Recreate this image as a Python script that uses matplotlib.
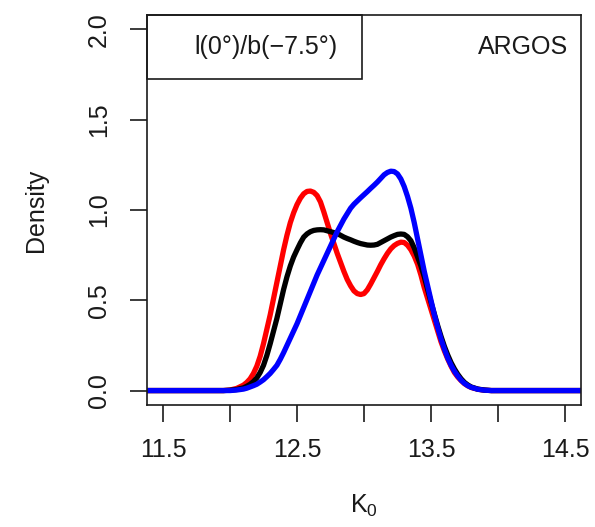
import numpy as np
import matplotlib
matplotlib.use("Agg")
import matplotlib.pyplot as plt
from matplotlib.patches import Rectangle

plt.rcParams['font.family'] = ['Liberation Sans', 'DejaVu Sans']
plt.rcParams['mathtext.fontset'] = 'custom'
plt.rcParams['mathtext.rm'] = 'Liberation Sans'
plt.rcParams['mathtext.it'] = 'Liberation Sans'

# valeurs (densité de K0), pas de 0.025 dans la zone utile
k0 = [11.38, 11.95, 12.00, 12.05,
      12.100, 12.125, 12.150, 12.175, 12.200, 12.225, 12.250, 12.275,
      12.300, 12.325, 12.350, 12.375, 12.400, 12.425, 12.450, 12.475,
      12.500, 12.525, 12.550, 12.575, 12.600, 12.625, 12.650, 12.675,
      12.700, 12.725, 12.750, 12.775, 12.800, 12.825, 12.850, 12.875,
      12.900, 12.925, 12.950, 12.975, 13.000, 13.025, 13.050, 13.075,
      13.100, 13.125, 13.150, 13.175, 13.200, 13.225, 13.250, 13.275,
      13.300, 13.325, 13.350, 13.375, 13.400, 13.425, 13.450, 13.475,
      13.500, 13.525, 13.550, 13.575, 13.600, 13.625, 13.650, 13.675,
      13.700, 13.725, 13.750, 13.775, 13.800,
      13.85, 13.90, 13.95, 14.62]

dens_rouge = [0.0, 0.0, 0.003, 0.012,
              0.03, 0.045, 0.065, 0.095, 0.135, 0.19, 0.26, 0.34,
              0.42, 0.51, 0.60, 0.69, 0.78, 0.86, 0.93, 0.985,
              1.03, 1.065, 1.09, 1.103, 1.105, 1.098, 1.08, 1.045,
              0.99, 0.93, 0.87, 0.815, 0.76, 0.71, 0.66, 0.615,
              0.58, 0.552, 0.537, 0.532, 0.537, 0.558, 0.59, 0.625,
              0.66, 0.697, 0.73, 0.76, 0.785, 0.803, 0.815, 0.822,
              0.82, 0.805, 0.78, 0.745, 0.70, 0.64, 0.57, 0.51,
              0.45, 0.39, 0.33, 0.27, 0.22, 0.175, 0.135, 0.10,
              0.075, 0.055, 0.038, 0.026, 0.017,
              0.007, 0.002, 0.0, 0.0]

dens_noir = [0.0, 0.0, 0.002, 0.006,
             0.015, 0.024, 0.035, 0.05, 0.07, 0.10, 0.14, 0.195,
             0.26, 0.33, 0.40, 0.48, 0.56, 0.63, 0.69, 0.74,
             0.78, 0.818, 0.85, 0.868, 0.88, 0.887, 0.89, 0.891,
             0.89, 0.885, 0.88, 0.875, 0.87, 0.86, 0.85, 0.842,
             0.835, 0.827, 0.82, 0.814, 0.81, 0.806, 0.805, 0.806,
             0.81, 0.82, 0.83, 0.84, 0.85, 0.858, 0.865, 0.867,
             0.865, 0.852, 0.83, 0.79, 0.74, 0.69, 0.63, 0.56,
             0.49, 0.425, 0.36, 0.30, 0.245, 0.197, 0.155, 0.12,
             0.09, 0.065, 0.045, 0.031, 0.02,
             0.008, 0.003, 0.0, 0.0]

dens_bleu = [0.0, 0.0, 0.0, 0.003,
             0.008, 0.013, 0.02, 0.027, 0.035, 0.047, 0.06, 0.077,
             0.095, 0.117, 0.14, 0.173, 0.21, 0.25, 0.29, 0.33,
             0.37, 0.415, 0.46, 0.505, 0.55, 0.595, 0.64, 0.68,
             0.72, 0.76, 0.80, 0.84, 0.88, 0.915, 0.95, 0.98,
             1.01, 1.032, 1.05, 1.068, 1.085, 1.102, 1.12, 1.137,
             1.155, 1.175, 1.195, 1.208, 1.215, 1.213, 1.20, 1.172,
             1.13, 1.075, 1.01, 0.93, 0.84, 0.75, 0.66, 0.58,
             0.50, 0.42, 0.35, 0.285, 0.23, 0.18, 0.14, 0.107,
             0.08, 0.057, 0.04, 0.027, 0.018,
             0.007, 0.002, 0.0, 0.0]

xticks = [11.5, 12.0, 12.5, 13.0, 13.5, 14.0, 14.5]
xlabels = ['11.5', '', '12.5', '', '13.5', '', '14.5']
yticks = [0.0, 0.5, 1.0, 1.5, 2.0]
ylabels = ['0.0', '0.5', '1.0', '1.5', '2.0']

encre = '#1a1a1a'

fig = plt.figure(figsize=(5.95, 5.27), dpi=100)
ax = fig.add_axes([0.247, 0.2315, 0.7295, 0.74])

for dens, coul in [(dens_rouge, 'red'), (dens_noir, 'black'), (dens_bleu, 'blue')]:
    ax.plot(k0, dens, color=coul, lw=3.8, solid_joinstyle='round',
            solid_capstyle='butt')

ax.set_xlim(11.38, 14.62)
ax.set_ylim(-0.08, 2.08)

ax.set_xticks(xticks)
ax.set_xticklabels(xlabels)
ax.set_yticks(yticks)
ax.set_yticklabels(ylabels, rotation=90, va='center')
ax.tick_params(axis='both', direction='out', length=12, width=1.2,
               labelsize=18, colors=encre)
ax.tick_params(axis='x', pad=12)
ax.tick_params(axis='y', pad=14)
for s in ax.spines.values():
    s.set_linewidth(1.2)
    s.set_color(encre)

ax.set_xlabel('K$_0$', fontsize=18, labelpad=22, color=encre)
ax.set_ylabel('Density', fontsize=18, labelpad=28, color=encre)

# boîte de légende en haut à gauche
ax.add_patch(Rectangle((0, 0.836), 0.495, 0.164, transform=ax.transAxes,
                       fill=False, lw=1.2, edgecolor=encre, clip_on=False))
ax.text(0.11, 0.918, 'l(0°)/b(−7.5°)', transform=ax.transAxes, fontsize=18,
        ha='left', va='center', color=encre)
ax.text(0.97, 0.918, 'ARGOS', transform=ax.transAxes, fontsize=18,
        ha='right', va='center', color=encre)

fig.savefig('out.png', dpi=100)
